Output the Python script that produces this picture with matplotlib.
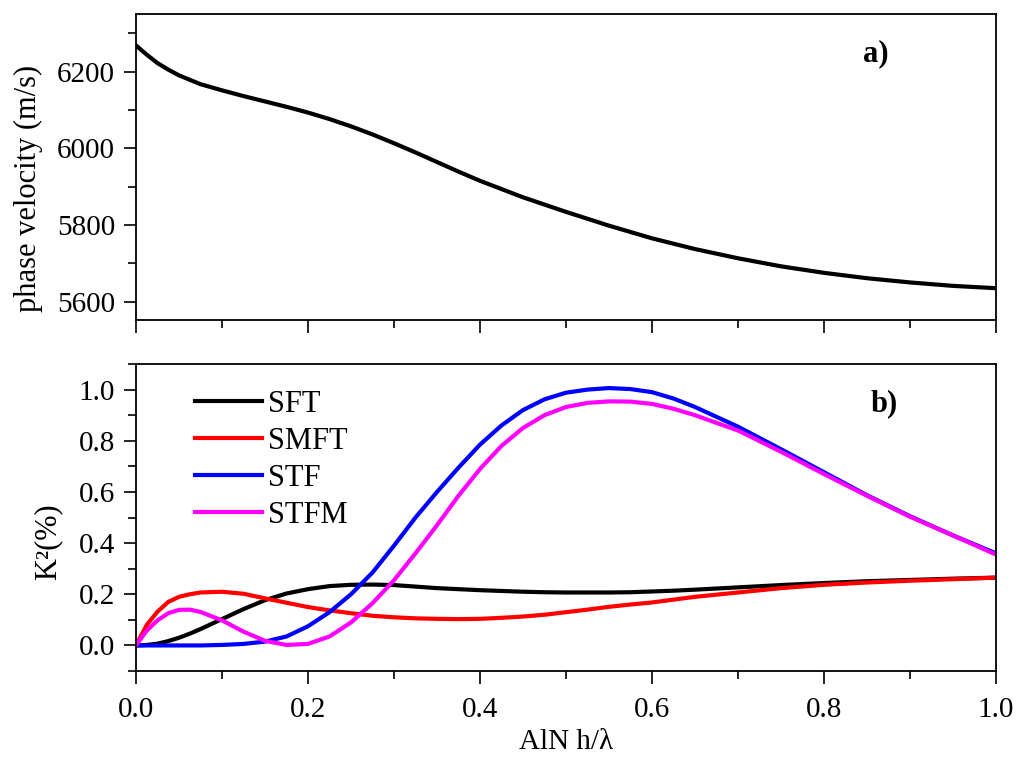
import matplotlib
matplotlib.use("Agg")
import matplotlib.pyplot as plt
from matplotlib.ticker import MultipleLocator

plt.rcParams['font.family'] = ['Liberation Serif', 'DejaVu Serif']

# panel a) phase velocity
x_v = [0, 0.0125, 0.025, 0.0375, 0.05, 0.075, 0.1, 0.125, 0.15, 0.175, 0.2, 0.225,
       0.25, 0.275, 0.3, 0.325, 0.35, 0.375, 0.4, 0.45, 0.5, 0.55, 0.6, 0.65,
       0.7, 0.75, 0.8, 0.85, 0.9, 0.95, 1.0]
velocity = [6268, 6244, 6222, 6205, 6190, 6167, 6151, 6136, 6122, 6108, 6093, 6076,
            6057, 6036, 6013, 5989, 5964, 5939, 5915, 5872, 5834, 5798, 5765, 5737,
            5713, 5692, 5675, 5661, 5650, 5641, 5635]

# panel b) K^2
x_k = [0, 0.0125, 0.025, 0.0375, 0.05, 0.0625, 0.075, 0.1, 0.125, 0.15, 0.175, 0.2,
       0.225, 0.25, 0.275, 0.3, 0.325, 0.35, 0.375, 0.4, 0.425, 0.45, 0.475, 0.5,
       0.525, 0.55, 0.575, 0.6, 0.625, 0.65, 0.7, 0.75, 0.8, 0.85, 0.9, 0.95, 1.0]
sft = [0, 0.002, 0.007, 0.017, 0.03, 0.046, 0.064, 0.103, 0.142, 0.177, 0.203, 0.22,
       0.232, 0.237, 0.238, 0.236, 0.23, 0.224, 0.22, 0.216, 0.213, 0.21, 0.208, 0.207,
       0.207, 0.207, 0.208, 0.211, 0.214, 0.218, 0.227, 0.236, 0.244, 0.251, 0.256,
       0.261, 0.265]
smft = [0, 0.08, 0.132, 0.17, 0.19, 0.2, 0.207, 0.21, 0.202, 0.184, 0.167, 0.15,
        0.137, 0.126, 0.116, 0.11, 0.106, 0.104, 0.103, 0.104, 0.108, 0.113, 0.12, 0.13,
        0.14, 0.151, 0.16, 0.168, 0.179, 0.19, 0.207, 0.224, 0.237, 0.246, 0.253,
        0.259, 0.265]
stf = [0, 0, 0, 0, 0, 0, 0, 0.002, 0.006, 0.015, 0.035, 0.075,
       0.13, 0.2, 0.285, 0.39, 0.5, 0.6, 0.695, 0.785, 0.86, 0.92, 0.962, 0.988,
       1.0, 1.006, 1.002, 0.99, 0.965, 0.932, 0.855, 0.767, 0.677, 0.587, 0.505,
       0.43, 0.36]
stfm = [0, 0.058, 0.098, 0.126, 0.139, 0.14, 0.131, 0.098, 0.054, 0.018, 0.002, 0.006,
        0.035, 0.09, 0.165, 0.255, 0.36, 0.47, 0.585, 0.69, 0.78, 0.85, 0.9, 0.932,
        0.948, 0.954, 0.953, 0.944, 0.925, 0.9, 0.84, 0.757, 0.67, 0.585, 0.503,
        0.43, 0.355]

names = ['SFT', 'SMFT', 'STF', 'STFM']
colors = ['black', 'red', 'blue', 'magenta']

fig = plt.figure(figsize=(10.24, 7.83), dpi=100)
ax1 = fig.add_axes([0.1328, 0.5913, 0.8399, 0.3908])
ax2 = fig.add_axes([0.1328, 0.1430, 0.8399, 0.3921])


def style(ax):
    for s in ax.spines.values():
        s.set_linewidth(1.3)
    ax.tick_params(which='major', direction='out', length=9, width=1.2,
                   labelsize=21, top=False, right=False)
    ax.tick_params(which='minor', direction='out', length=5.5, width=1.2,
                   top=False, right=False)
    ax.tick_params(axis='y', which='major', pad=6)
    ax.tick_params(axis='x', which='major', pad=10)
    ax.xaxis.set_major_locator(MultipleLocator(0.2))
    ax.xaxis.set_minor_locator(MultipleLocator(0.1))
    ax.set_xlim(0, 1.0)


ax1.plot(x_v, velocity, color='black', lw=3)
style(ax1)
ax1.set_ylim(5552, 6350)
ax1.yaxis.set_major_locator(MultipleLocator(200))
ax1.yaxis.set_minor_locator(MultipleLocator(100))
ax1.tick_params(labelbottom=False)
ax1.set_ylabel('phase velocity (m/s)', fontsize=22)
ax1.yaxis.set_label_coords(-0.108, 0.43)
ax1.text(0.86, 0.87, 'a)', transform=ax1.transAxes, fontsize=22,
         fontweight='bold', ha='center', va='center')

for ys, nm, c in zip([sft, smft, stf, stfm], names, colors):
    ax2.plot(x_k, ys, color=c, lw=3, label=nm)
style(ax2)
ax2.set_ylim(-0.1, 1.1)
ax2.yaxis.set_major_locator(MultipleLocator(0.2))
ax2.yaxis.set_minor_locator(MultipleLocator(0.1))
ax2.set_ylabel('K²(%)', fontsize=22)
ax2.yaxis.set_label_coords(-0.086, 0.42)
ax2.set_xlabel('AlN h/λ', fontsize=21, labelpad=4)
ax2.text(0.87, 0.87, 'b)', transform=ax2.transAxes, fontsize=22,
         fontweight='bold', ha='center', va='center')
ax2.legend(loc='upper left', bbox_to_anchor=(0.051, 0.965), frameon=False,
           fontsize=22, handlelength=2.2, handletextpad=0.2,
           labelspacing=0.26, borderpad=0)

fig.savefig('out.png', dpi=100)
